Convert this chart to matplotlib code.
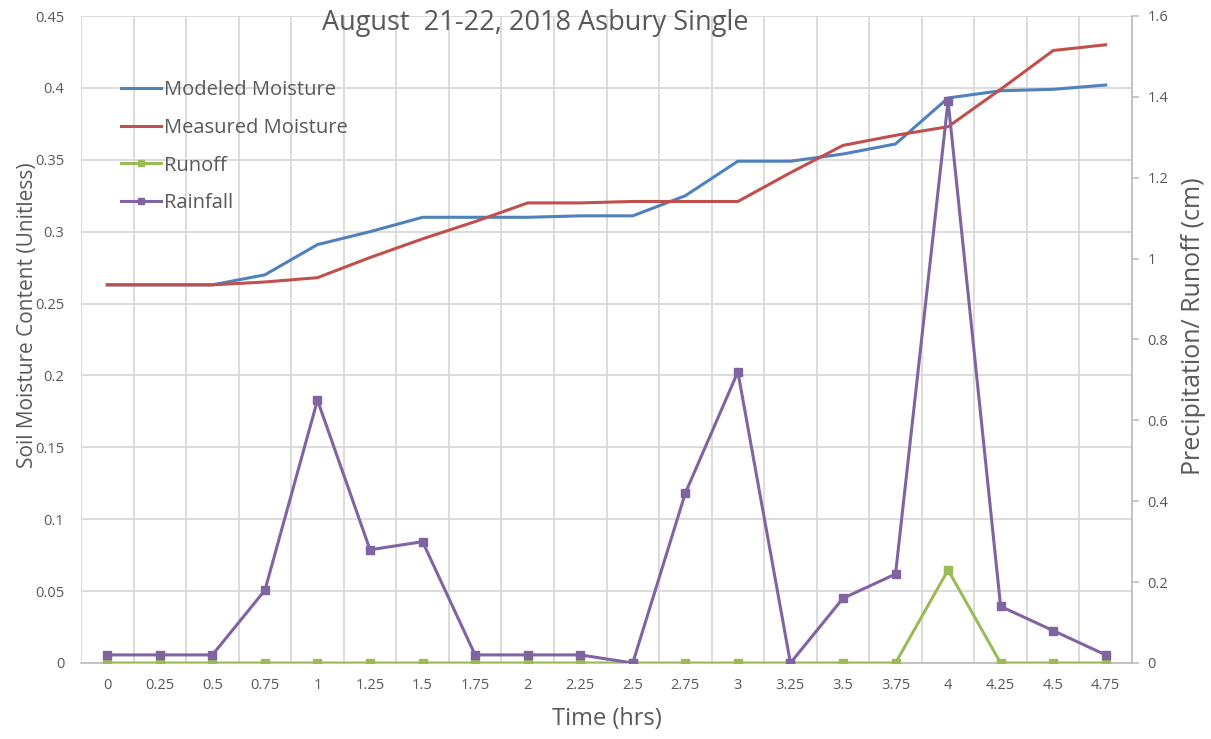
import matplotlib
matplotlib.use("Agg")
import matplotlib.pyplot as plt
from matplotlib.ticker import FixedLocator, FuncFormatter

# horas (eixo de categorias)
tempo = ["0", "0.25", "0.5", "0.75", "1", "1.25", "1.5", "1.75", "2", "2.25",
         "2.5", "2.75", "3", "3.25", "3.5", "3.75", "4", "4.25", "4.5", "4.75"]

umidade_modelada = [0.263, 0.263, 0.263, 0.270, 0.291, 0.300, 0.310, 0.310, 0.310, 0.311,
                    0.311, 0.325, 0.349, 0.349, 0.354, 0.361, 0.393, 0.398, 0.399, 0.402]
umidade_medida = [0.263, 0.263, 0.263, 0.265, 0.268, 0.282, 0.295, 0.307, 0.320, 0.320,
                  0.321, 0.321, 0.321, 0.341, 0.360, 0.367, 0.373, 0.399, 0.426, 0.430]
escoamento = [0, 0, 0, 0, 0, 0, 0, 0, 0, 0,
              0, 0, 0, 0, 0, 0, 0.23, 0, 0, 0]
chuva = [0.02, 0.02, 0.02, 0.18, 0.65, 0.28, 0.30, 0.02, 0.02, 0.02,
         0.0, 0.42, 0.72, 0.0, 0.16, 0.22, 1.39, 0.14, 0.08, 0.02]

cor_texto = "#595959"
cor_grade = "#d9d9d9"
plt.rcParams["font.family"] = ["Open Sans", "DejaVu Sans"]

fig = plt.figure(figsize=(12.11, 7.39), dpi=100)
ax = fig.add_axes([81 / 1211, 1 - 663 / 739, 1051 / 1211, 647 / 739])
ax2 = ax.twinx()

x = list(range(len(tempo)))
l1, = ax.plot(x, umidade_modelada, color="#4F81BD", lw=2.2, label="Modeled Moisture")
l2, = ax.plot(x, umidade_medida, color="#C0504D", lw=2.2, label="Measured Moisture")
l3, = ax2.plot(x, escoamento, color="#9BBB59", lw=2.2, marker="s", ms=5.5, label="Runoff")
l4, = ax2.plot(x, chuva, color="#8064A2", lw=2.2, marker="s", ms=5.5, label="Rainfall")

ax.set_xlim(-0.5, len(tempo) - 0.5)
ax.set_ylim(0, 0.45)
ax2.set_ylim(0, 1.6)

ax.set_xticks(x)
ax.set_xticklabels(tempo)
ax.xaxis.set_minor_locator(FixedLocator([i - 0.5 for i in range(len(tempo) + 1)]))
ax.set_yticks([i * 0.05 for i in range(10)])
ax.yaxis.set_major_formatter(FuncFormatter(lambda v, p: "0" if v == 0 else f"{v:g}"))
ax2.set_yticks([i * 0.2 for i in range(9)])
ax2.yaxis.set_major_formatter(FuncFormatter(lambda v, p: "0" if v == 0 else f"{v:.1f}".rstrip("0").rstrip(".")))

ax.grid(axis="y", color=cor_grade, lw=1.3)
ax.grid(axis="x", which="minor", color=cor_grade, lw=1.3)
ax.set_axisbelow(True)

ax.tick_params(axis="x", which="both", length=0, pad=11, labelsize=10.5, labelcolor=cor_texto)
ax.tick_params(axis="y", length=0, pad=12, labelsize=10.5, labelcolor=cor_texto)
ax2.tick_params(axis="y", length=5, width=1.2, color="#bfbfbf", pad=6, labelsize=10.5, labelcolor=cor_texto)

for lado in ["top", "left"]:
    ax.spines[lado].set_visible(False)
    ax2.spines[lado].set_visible(False)
ax.spines["right"].set_visible(False)
ax.spines["bottom"].set_color("#bfbfbf")
ax.spines["bottom"].set_linewidth(1.3)
ax2.spines["bottom"].set_visible(False)
ax2.spines["right"].set_color("#bfbfbf")
ax2.spines["right"].set_linewidth(1.3)

ax.set_xlabel("Time (hrs)", fontsize=17, color=cor_texto)
ax.xaxis.set_label_coords(0.5, -0.068)
ax.set_ylabel("Soil Moisture Content (Unitless)", fontsize=15, color=cor_texto)
ax.yaxis.set_label_coords(-0.041, 0.538)
ax2.set_ylabel("Precipitation/ Runoff (cm)", fontsize=18, color=cor_texto)
ax2.yaxis.set_label_coords(1.047, 0.52)

fig.text(535 / 1211, 1 - 23 / 739, "August  21-22, 2018 Asbury Single",
         fontsize=19.5, color=cor_texto, ha="center", va="center")

leg = ax2.legend(handles=[l1, l2, l3, l4], loc="upper left", bbox_to_anchor=(0.021, 0.929),
                 frameon=False, fontsize=14.5, handlelength=2.0, handletextpad=0.15,
                 labelspacing=0.88, markerscale=0.8)
for t in leg.get_texts():
    t.set_color(cor_texto)

plt.savefig("out.png", dpi=100)
